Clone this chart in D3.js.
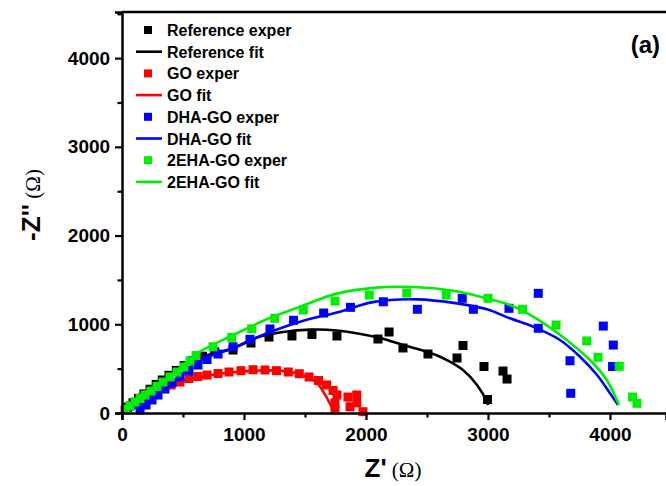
<!DOCTYPE html>
<html>
<head>
<meta charset="utf-8">
<script src="https://cdn.jsdelivr.net/npm/d3@7"></script>
<style>
  body { margin: 0; background: #fff; }
  svg { display: block; }
  text { font-family: "Liberation Sans", Arial, sans-serif; font-weight: bold; }
</style>
</head>
<body>
<svg id="chart" width="666" height="486"></svg>
<script>
// Nyquist data: [Z', -Z''] in ohm
var refExper = [[45, 65], [90, 115], [135, 165], [180, 215], [230, 268], [280, 322], [330, 372], [385, 425], [445, 480],
  [510, 535], [580, 590], [660, 640], [760, 690],
  [910, 710], [1057, 789], [1205, 856], [1393, 868], [1557, 885], [1762, 868], [2098, 834], [2189, 913], [2303, 733], [2508, 665],
  [2795, 761], [2746, 620], [2967, 524], [3123, 473], [3156, 383], [2996, 152]];
var refFit = [[30, 20], [230, 237], [434, 462], [639, 620], [910, 733], [1115, 856], [1320, 913], [1541, 940], [1762, 930],
  [2115, 845], [2303, 766], [2508, 687], [2664, 597], [2795, 485], [2910, 316], [2992, 124], [3000, 90]];

var goExper = [[25, 34], [66, 79], [115, 124], [164, 169], [221, 214], [279, 248], [336, 282], [402, 316], [475, 349], [549, 389],
  [623, 411], [697, 428], [787, 445], [877, 462], [975, 477], [1074, 488], [1172, 485], [1266, 477], [1363, 462], [1453, 443],
  [1533, 406], [1611, 366], [1676, 316], [1730, 254], [1762, 203], [1746, 113], [1746, 34], [1852, 180], [1924, 203],
  [1869, 71], [1924, 113], [1975, 15]];
var goFit = [[25, 34], [230, 225], [434, 338], [639, 406], [885, 456], [1131, 479], [1336, 473], [1500, 417], [1598, 338],
  [1689, 146], [1738, 11]];

var dhaExper = [[148, 34], [197, 90], [246, 147], [295, 203], [352, 270], [410, 338], [475, 406], [549, 473], [623, 541],
  [697, 603], [787, 665], [910, 747], [1049, 831], [1213, 947], [1406, 1045], [1653, 1127], [1873, 1191], [2142, 1254],
  [2421, 1169], [2789, 1293], [2880, 1169], [3172, 1180], [3412, 1349], [3412, 955], [3672, 589], [3678, 222],
  [3945, 980], [4027, 766], [4021, 524]];
var dhaFit = [[49, 11], [230, 169], [434, 372], [639, 597], [910, 729], [1189, 898], [1459, 1029], [1787, 1142], [2057, 1250],
  [2418, 1281], [2746, 1236], [2992, 1169], [3180, 1067], [3369, 973], [3590, 823], [3754, 634], [3894, 428], [4000, 222], [4066, 90]];

var ehaExper = [[33, 45], [66, 79], [107, 124], [148, 163], [189, 203], [238, 248], [287, 299], [336, 349], [393, 406],
  [451, 462], [508, 518], [557, 586], [607, 648], [746, 747], [899, 853], [1063, 949], [1252, 1067], [1486, 1161],
  [1746, 1262], [2027, 1330], [2334, 1352], [2658, 1330], [3000, 1293], [3283, 1169], [3558, 992], [3809, 812],
  [3902, 628], [4076, 526], [4185, 180], [4221, 109]];
var ehaFit = [[33, 34], [230, 225], [434, 462], [639, 691], [912, 879], [1186, 1056], [1459, 1198], [1746, 1340], [2060, 1410],
  [2388, 1420], [2716, 1378], [2989, 1293], [3180, 1217], [3371, 1085], [3645, 823], [3836, 597], [3973, 372], [4074, 90]];

var seriesNames = ["Reference", "GO", "DHA-GO", "2EHA-GO"];
var seriesColors = ["#000000", "#ff0000", "#0000ff", "#00ee00"];
var xTicks = [0, 1000, 2000, 3000, 4000];
var yTicks = [0, 1000, 2000, 3000, 4000];

var svg = d3.select("#chart");
var pLeft = 122, pRight = 666, pTop = 12, pBottom = 413;

var x = d3.scaleLinear().domain([0, 4459]).range([pLeft, pRight]);
var y = d3.scaleLinear().domain([0, 4520]).range([pBottom, pTop]);

var exper = [refExper, goExper, dhaExper, ehaExper];
var fits = [refFit, goFit, dhaFit, ehaFit];

var line = d3.line()
  .x(d => x(d[0]))
  .y(d => y(d[1]))
  .curve(d3.curveCatmullRom);

var plot = svg.append("g");

// experimental points first, fits on top (order as in Origin)
exper.forEach(function (pts, i) {
  plot.append("g")
    .selectAll("rect")
    .data(pts)
    .enter()
    .append("rect")
    .attr("x", d => x(d[0]) - 4.5)
    .attr("y", d => y(d[1]) - 4.5)
    .attr("width", 9)
    .attr("height", 9)
    .style("fill", seriesColors[i]);
  plot.append("path")
    .datum(fits[i])
    .attr("d", line)
    .style("fill", "none")
    .style("stroke", seriesColors[i])
    .style("stroke-width", 2.6);
});

// axes
var xAxis = d3.axisBottom(x)
  .tickValues(d3.range(0, 4600, 500))
  .tickSize(7)
  .tickFormat(d => xTicks.includes(d) ? d : "");
var yAxis = d3.axisLeft(y)
  .tickValues(d3.range(0, 4600, 500))
  .tickSize(7)
  .tickFormat(d => yTicks.includes(d) ? d : "");

var gx = svg.append("g").attr("transform", `translate(0,${pBottom})`).call(xAxis);
var gy = svg.append("g").attr("transform", `translate(${pLeft},0)`).call(yAxis);

[gx, gy].forEach(function (g) {
  g.select(".domain").style("stroke", "#000").style("stroke-width", 2.5);
  g.selectAll(".tick line").style("stroke", "#000").style("stroke-width", 2.2);
  g.selectAll(".tick text")
    .style("font-size", "19px")
    .style("font-family", "Liberation Sans, Arial, sans-serif")
    .style("font-weight", "bold")
    .style("fill", "#000");
});
gx.selectAll(".tick").filter(d => !xTicks.includes(d)).select("line").attr("y2", 4.5);
gy.selectAll(".tick").filter(d => !yTicks.includes(d)).select("line").attr("x2", -4.5);
gx.selectAll(".tick text").attr("dy", "0.95em");
gy.selectAll(".tick text").attr("dx", "-0.1em");

// top frame line
svg.append("line")
  .attr("x1", pLeft).attr("x2", pRight)
  .attr("y1", pTop).attr("y2", pTop)
  .style("stroke", "#000").style("stroke-width", 2.5);

// axis titles
var xt = svg.append("text")
  .attr("x", 393).attr("y", 477)
  .attr("text-anchor", "middle");
xt.append("tspan").style("font-size", "26px").text("Z'");
xt.append("tspan")
  .style("font-size", "21px")
  .style("font-family", "Liberation Serif, Times New Roman, serif")
  .style("font-weight", "normal")
  .text(" (Ω)");

var yt = svg.append("text")
  .attr("transform", "translate(40,205) rotate(-90)")
  .attr("text-anchor", "middle");
yt.append("tspan").style("font-size", "26px").text("-Z''");
yt.append("tspan")
  .style("font-size", "21px")
  .style("font-family", "Liberation Serif, Times New Roman, serif")
  .style("font-weight", "normal")
  .text(" (Ω)");

svg.append("text")
  .attr("x", 660).attr("y", 53)
  .attr("text-anchor", "end")
  .style("font-size", "24px")
  .text("(a)");

// legend
var legend = svg.append("g");
var rowH = 21.7, legY = 30;
seriesNames.forEach(function (name, i) {
  var ye = legY + rowH * 2 * i;
  var yf = ye + rowH;
  legend.append("rect")
    .attr("x", 144).attr("y", ye - 4)
    .attr("width", 8).attr("height", 8)
    .style("fill", seriesColors[i]);
  legend.append("text")
    .attr("x", 167).attr("y", ye + 6)
    .style("font-size", "16px")
    .text(name + " exper");
  legend.append("line")
    .attr("x1", 136).attr("x2", 162)
    .attr("y1", yf).attr("y2", yf)
    .style("stroke", seriesColors[i])
    .style("stroke-width", 2.6);
  legend.append("text")
    .attr("x", 167).attr("y", yf + 6)
    .style("font-size", "16px")
    .text(name + " fit");
});
</script>
</body>
</html>
